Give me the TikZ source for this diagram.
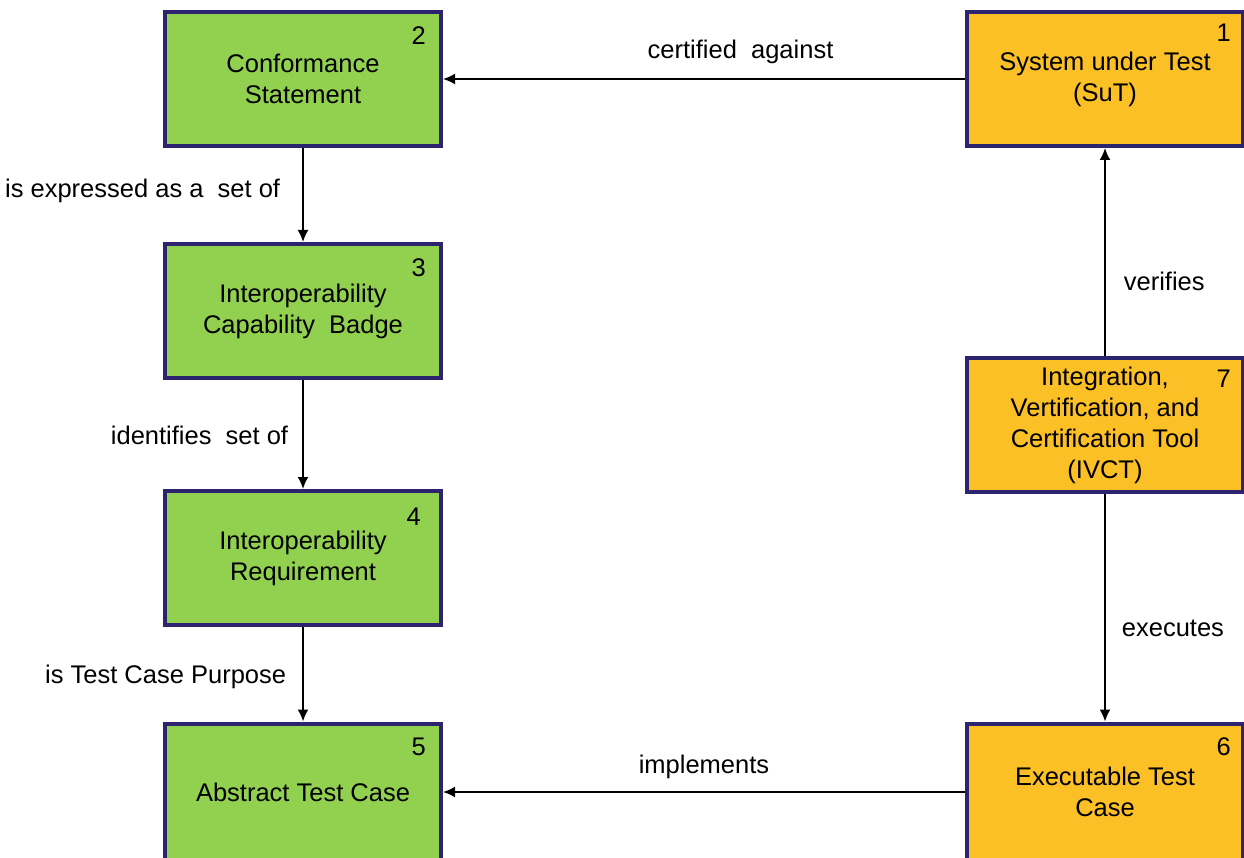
\documentclass[tikz,border=0pt]{standalone}
\usepackage{fontspec}
\setmainfont{Liberation Sans}
\usetikzlibrary{arrows.meta}
\definecolor{boxgreen}{RGB}{146,208,80}
\definecolor{boxorange}{RGB}{251,192,38}
\definecolor{boxline}{RGB}{44,36,110}
\tikzset{
  x=1pt, y=-1pt,
  every node/.style={font=\fontsize{25.5}{31}\selectfont, text=black},
  entity/.style={draw=boxline, line width=4pt, minimum width=276pt,
    minimum height=134pt, align=center, inner sep=0pt},
  greenbox/.style={entity, fill=boxgreen},
  orangebox/.style={entity, fill=boxorange},
  idnum/.style={anchor=north east, inner sep=0pt},
  link/.style={line width=1.8pt, -{Latex[length=12pt,width=11pt]}},
  lbl/.style={inner sep=0pt, align=center}
}
\begin{document}
\begin{tikzpicture}
\useasboundingbox (0,0) rectangle (1244,858);

% left column: statement -> badge -> requirement -> abstract case
\node[greenbox]  (conf)  at (303,79)  {Conformance\\Statement};
\node[greenbox]  (badge) at (303,311) {Interoperability\\Capability~~Badge};
\node[greenbox]  (req)   at (303,558) {Interoperability\\Requirement};
\node[greenbox, minimum height=137pt] (atc) at (303,792) {Abstract Test Case};

% right column: system, tool, executable case
\node[orangebox] (sut)   at (1105,79)  {System under Test\\(SuT)};
\node[orangebox] (ivct)  at (1105,425) {Integration,\\Vertification, and\\Certification Tool\\(IVCT)};
\node[orangebox, minimum height=137pt] (etc) at (1105,792) {Executable Test\\Case};

% reference numbers in the upper right corners
\node[idnum] (n2) at ([xshift=-17pt,yshift=-16pt]conf.north east)  {2};
\node[idnum] (n3) at ([xshift=-17pt,yshift=-16pt]badge.north east) {3};
\node[idnum] (n4) at ([xshift=-22pt,yshift=-19pt]req.north east)   {4};
\node[idnum] (n5) at ([xshift=-17pt,yshift=-16pt]atc.north east)   {5};
\node[idnum] (n1) at ([xshift=-14pt,yshift=-14pt]sut.north east)   {1};
\node[idnum] (n7) at ([xshift=-14pt,yshift=-14pt]ivct.north east)  {7};
\node[idnum] (n6) at ([xshift=-14pt,yshift=-16pt]etc.north east)   {6};

% relations
\draw[link] (sut.west) -- node[lbl, pos=0.43, above=14pt] {certified~~against} (conf.east);
\draw[link] (etc.west |- atc.east) -- node[lbl, pos=0.5, above=12pt] {implements} (atc.east);
\draw[link] (conf.south) -- node[lbl, pos=0.46, anchor=east, xshift=-22pt] {is expressed as a~~set of} (badge.north);
\draw[link] (badge.south) -- node[lbl, pos=0.51, anchor=east, xshift=-14pt] {identifies~~set of} (req.north);
\draw[link] (req.south) -- node[lbl, pos=0.53, anchor=east, xshift=-16pt] {is Test Case Purpose} (atc.north);
\draw[link] (ivct.north) -- node[lbl, pos=0.36, anchor=west, xshift=18pt] {verifies} (sut.south);
\draw[link] (ivct.south) -- node[lbl, pos=0.59, anchor=west, xshift=16pt] {executes} (etc.north);
\end{tikzpicture}
\end{document}
